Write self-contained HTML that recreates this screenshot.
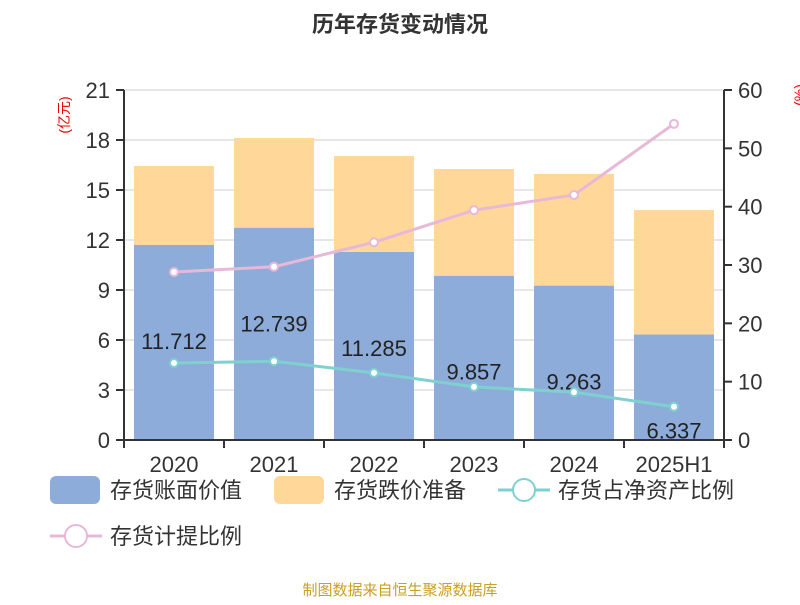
<!DOCTYPE html>
<html><head><meta charset="utf-8"><style>
body{margin:0;background:#fff;}
svg text{font-family:"Liberation Sans","Noto Sans CJK SC",sans-serif;}
</style></head><body>
<svg id="c" width="800" height="600" xmlns="http://www.w3.org/2000/svg">
<text x="400" y="32" text-anchor="middle" font-size="22" font-weight="bold" fill="#333">历年存货变动情况</text>
<text transform="translate(69,115) rotate(-90)" text-anchor="middle" font-size="14" fill="#e00">(亿元)</text>
<text transform="translate(804,95) rotate(-90)" text-anchor="middle" font-size="14" fill="#e00">(%)</text>
<g id="grid"></g><g id="bars"></g><g id="lines"></g><g id="axes"></g>
<text x="400" y="595" text-anchor="middle" font-size="15" fill="#c9a020">制图数据来自恒生聚源数据库</text>
<g>
<rect x="50" y="476" width="50" height="28" rx="6" fill="#8eacd9"/>
<text x="110" y="498" font-size="22" fill="#333">存货账面价值</text>
<rect x="274" y="476" width="50" height="28" rx="6" fill="#ffd899"/>
<text x="334" y="498" font-size="22" fill="#333">存货跌价准备</text>
<line x1="498" y1="490" x2="550" y2="490" stroke="#7fd0d0" stroke-width="3"/>
<circle cx="524" cy="490" r="11" fill="#fff" stroke="#7fd0d0" stroke-width="2"/>
<text x="558" y="498" font-size="22" fill="#333">存货占净资产比例</text>
<line x1="50" y1="536" x2="102" y2="536" stroke="#e8b8d8" stroke-width="3"/>
<circle cx="76" cy="536" r="11" fill="#fff" stroke="#e8b8d8" stroke-width="2"/>
<text x="110" y="544" font-size="22" fill="#333">存货计提比例</text>
</g>
</svg>
<script>
const categories=["2020","2021","2022","2023","2024","2025H1"];
const bookValue=[11.712,12.739,11.285,9.857,9.263,6.337];
const reserve=[4.73,5.38,5.75,6.40,6.70,7.46];
const netAssetRatio=[13.2,13.5,11.5,9.1,8.2,5.7];
const provisionRatio=[28.8,29.7,33.9,39.4,42.0,54.2];
const leftTicks=[0,3,6,9,12,15,18,21];
const rightTicks=[0,10,20,30,40,50,60];
const L=124,R=724,T=90,B=440;
const yL=v=>B-(B-T)*v/21, yR=v=>B-(B-T)*v/60;
const bw=(R-L)/categories.length, xc=i=>L+bw*(i+0.5);
const NS="http://www.w3.org/2000/svg";
function mk(p,t,a){const e=document.createElementNS(NS,t);for(const k in a)e.setAttribute(k,a[k]);document.getElementById(p).appendChild(e);return e;}
leftTicks.forEach(v=>{
 const l=mk('grid','line',{x1:L,x2:R,y1:yL(v),y2:yL(v),stroke:'#ccc','stroke-width':1});
 
 
 mk('axes','line',{x1:L-8,x2:L,y1:yL(v),y2:yL(v),stroke:'#333','stroke-width':2});
 const t=mk('axes','text',{x:L-14,y:yL(v)+8,'text-anchor':'end','font-size':22,fill:'#333'});t.textContent=v;
 
 
});
rightTicks.forEach(v=>{
 mk('axes','line',{x1:R,x2:R+8,y1:yR(v),y2:yR(v),stroke:'#333','stroke-width':2});
 const t=mk('axes','text',{x:R+14,y:yR(v)+8,'font-size':22,fill:'#333'});t.textContent=v;
 
 
});
mk('axes','line',{x1:L,x2:L,y1:T,y2:B,stroke:'#333','stroke-width':2});
mk('axes','line',{x1:R,x2:R,y1:T,y2:B,stroke:'#333','stroke-width':2});
mk('axes','line',{x1:L,x2:R,y1:B,y2:B,stroke:'#333','stroke-width':2});
categories.forEach((c,i)=>{
 const x=xc(i);
 mk('axes','line',{x1:L+bw*i,x2:L+bw*i,y1:B,y2:B+8,stroke:'#333','stroke-width':2});
 if(i==categories.length-1) mk('axes','line',{x1:R,x2:R,y1:B,y2:B+8,stroke:'#333','stroke-width':2});
 const t=mk('axes','text',{x:x,y:B+32,'text-anchor':'middle','font-size':22,fill:'#333'});t.textContent=c;
 
 
 const b=mk('bars','rect',{x:x-40,width:80,y:yL(bookValue[i]),height:B-yL(bookValue[i]),fill:'#8eacd9'});
 
 
 const tot=bookValue[i]+reserve[i];
 const r=mk('bars','rect',{x:x-40,width:80,y:yL(tot),height:yL(bookValue[i])-yL(tot),fill:'#ffd899'});
 
 
 const lb=mk('lines','text',{x:x,y:yL(bookValue[i])+104,'text-anchor':'middle','font-size':22,fill:'#222'});lb.textContent=bookValue[i];
 
 
});
function series(data,col,name){
 const p=mk('lines','polyline',{points:data.map((v,i)=>xc(i)+','+yR(v)).join(' '),fill:'none',stroke:col,'stroke-width':3});
 
 
 data.forEach((v,i)=>{const c=mk('lines','circle',{cx:xc(i),cy:yR(v),r:4,fill:'#fff',stroke:col,'stroke-width':2});
 
 });
}
series(netAssetRatio,'#7fd0d0','net-asset-ratio');
series(provisionRatio,'#e8b8d8','provision-ratio');
</script>
</body></html>
